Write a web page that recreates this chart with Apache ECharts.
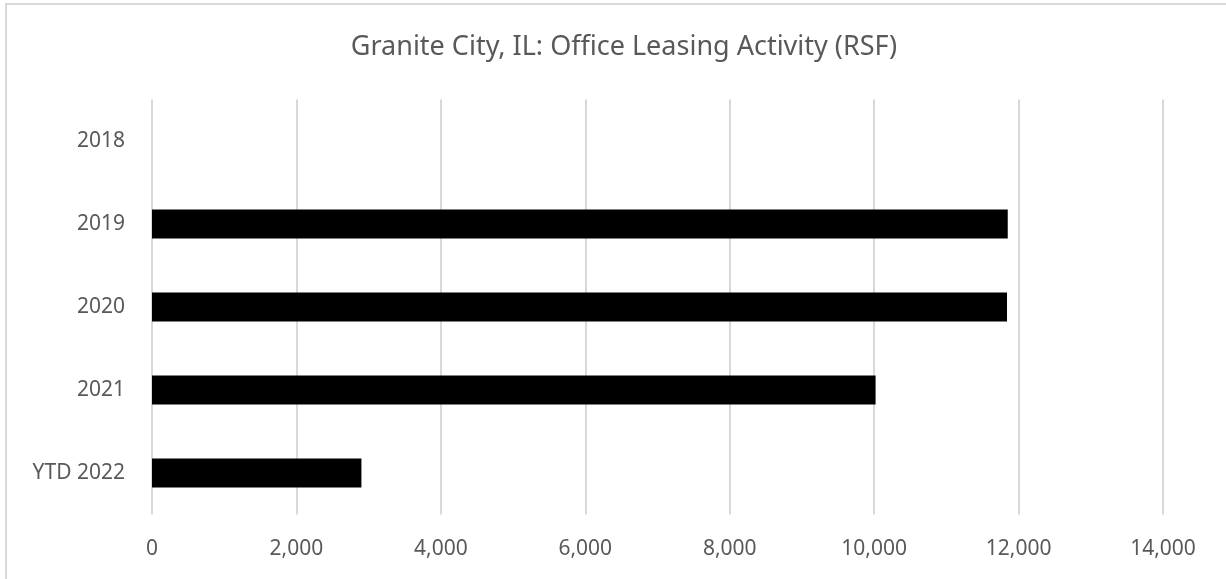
<!DOCTYPE html>
<html>
<head>
<meta charset="utf-8">
<script src="https://cdn.jsdelivr.net/npm/echarts@6/dist/echarts.min.js"></script>
<style>
html,body{margin:0;padding:0;background:#fff;}
#c{width:1226px;height:579px;}
</style>
</head>
<body>
<div id="c"></div>
<script>
const titleText = 'Granite City, IL: Office Leasing Activity (RSF)';
const categories = ['2018', '2019', '2020', '2021', 'YTD 2022'];
const leasingRSF = [0, 11850, 11840, 10020, 2900];
const xTicks = [0, 2000, 4000, 6000, 8000, 10000, 12000, 14000];

const chart = echarts.init(document.getElementById('c'), null, {renderer: 'canvas'});
const font = '"Noto Sans", "Open Sans", sans-serif';
chart.setOption({
  animation: false,
  backgroundColor: '#fff',
  graphic: [{
    type: 'rect',
    shape: {x: 6, y: 4, width: 1240, height: 600},
    style: {fill: 'none', stroke: '#d9d9d9', lineWidth: 2},
    silent: true
  }],
  title: {
    text: titleText,
    left: 619,
    textAlign: 'center',
    top: 29,
    textStyle: {fontFamily: font, fontSize: 27, fontWeight: 'normal', color: '#595959'}
  },
  grid: {left: 152, right: 63, top: 99.5, bottom: 64.5, containLabel: false},
  xAxis: {
    type: 'value',
    min: xTicks[0],
    max: xTicks[xTicks.length - 1],
    interval: 2000,
    axisLine: {show: false},
    axisTick: {show: false},
    splitLine: {show: true, lineStyle: {color: '#d9d9d9', width: 2}},
    axisLabel: {
      color: '#595959', fontFamily: font, fontSize: 21, margin: 24,
      formatter: v => v.toLocaleString('en-US')
    }
  },
  yAxis: {
    type: 'category',
    data: categories,
    inverse: true,
    axisLine: {show: false},
    axisTick: {show: false},
    axisLabel: {color: '#595959', fontFamily: font, fontSize: 21, margin: 27}
  },
  series: [{
    type: 'bar',
    data: leasingRSF,
    barWidth: '35%',
    itemStyle: {color: '#000'}
  }]
});
</script>
</body>
</html>
